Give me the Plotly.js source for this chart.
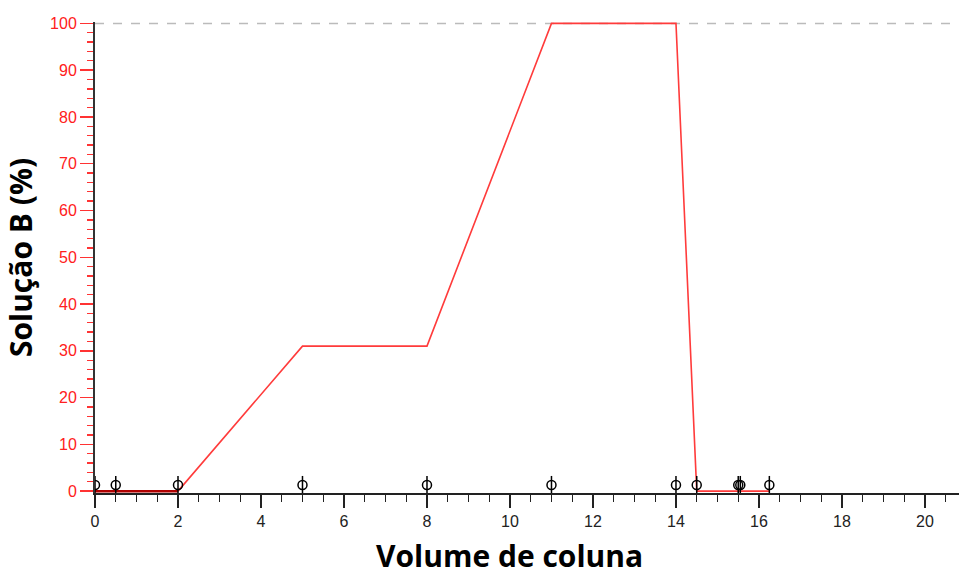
<!DOCTYPE html>
<html>
<head>
<meta charset="utf-8">
<script src="https://cdn.plot.ly/plotly-3.0.1.min.js"></script>
<style>html,body{margin:0;padding:0;background:#fff;}#chart{width:959px;height:579px;}</style>
</head>
<body>
<div id="chart"></div>
<script>
// Gradient profile (volume de coluna vs % solução B)
const profileX = [2, 5, 8, 11, 14, 14.5, 16.25];
const profileY = [0, 31, 31, 100, 100, 0, 0];
// Initial isocratic segment (drawn darker)
const initX = [0, 2];
const initY = [0, 0];
// Event markers along the baseline
const markerX = [0, 0.5, 2, 5, 8, 11, 14, 14.5, 15.5, 15.55, 16.25];
const markerY = [1.3, 1.3, 1.3, 1.3, 1.3, 1.3, 1.3, 1.3, 1.3, 1.3, 1.3];
// Axis ticks
const xTickVals = [0, 2, 4, 6, 8, 10, 12, 14, 16, 18, 20];
const yTickVals = [0, 10, 20, 30, 40, 50, 60, 70, 80, 90, 100];
const yMax = 100;
const xTitle = 'Volume de coluna';
const yTitle = 'Solução B (%)';

const traces = [
  {x: profileX, y: profileY, type: 'scatter', mode: 'lines',
   line: {color: '#ff3b3b', width: 1.6}, hoverinfo: 'skip'},
  {x: initX, y: initY, type: 'scatter', mode: 'lines',
   line: {color: '#b00000', width: 2.5}, hoverinfo: 'skip'},
  {x: markerX, y: markerY, type: 'scatter', mode: 'markers',
   marker: {symbol: 'circle-open', size: 9, color: '#000', line: {width: 1.5, color: '#000'}}, hoverinfo: 'skip'},
  {x: markerX, y: markerY, type: 'scatter', mode: 'markers',
   marker: {symbol: 'line-ns-open', size: 13, color: '#000', line: {width: 1.5, color: '#000'}}, hoverinfo: 'skip'}
];

const titleFont = {family: 'Open Sans, sans-serif', size: 30, color: '#000', weight: 'bold'};

const layout = {
  width: 959, height: 579,
  margin: {l: 95, r: 0, t: 22, b: 86},
  paper_bgcolor: '#fff', plot_bgcolor: '#fff',
  showlegend: false,
  xaxis: {
    range: [0, 20.82],
    tickvals: xTickVals, ticktext: xTickVals.map(String),
    ticks: 'outside', ticklen: 13, tickwidth: 1.5, tickcolor: '#222',
    minor: {dtick: 0.5, ticks: 'outside', ticklen: 7, tickwidth: 1.3, tickcolor: '#222', showgrid: false},
    showline: true, linecolor: '#222', linewidth: 1.5,
    showgrid: false, zeroline: false,
    tickfont: {family: 'Liberation Sans, Arial, sans-serif', size: 16, color: '#222'}
  },
  yaxis: {
    range: [-0.4, 100.3],
    tickvals: yTickVals, ticktext: yTickVals.map(String),
    ticks: 'outside', ticklen: 13, tickwidth: 1.5, tickcolor: '#ff3333',
    minor: {dtick: 2, ticks: 'outside', ticklen: 6, tickwidth: 1.3, tickcolor: '#ff3333', showgrid: false},
    showline: true, linecolor: '#333', linewidth: 2,
    showgrid: false, zeroline: false,
    tickfont: {family: 'Liberation Sans, Arial, sans-serif', size: 16, color: '#ff2020'},
    title: {text: yTitle, standoff: 10, font: titleFont}
  },
  annotations: [{text: xTitle, xref: 'paper', yref: 'paper', x: 0.48, y: -0.178,
                 xanchor: 'center', yanchor: 'bottom', showarrow: false, borderpad: 0, font: titleFont}],
  shapes: [{type: 'line', xref: 'paper', yref: 'y', x0: 0, x1: 1, y0: yMax, y1: yMax,
            line: {color: '#bbbbbb', width: 1.5, dash: 'dash'}, layer: 'below'}]
};

Plotly.newPlot('chart', traces, layout, {displayModeBar: false, staticPlot: true});
</script>
</body>
</html>
